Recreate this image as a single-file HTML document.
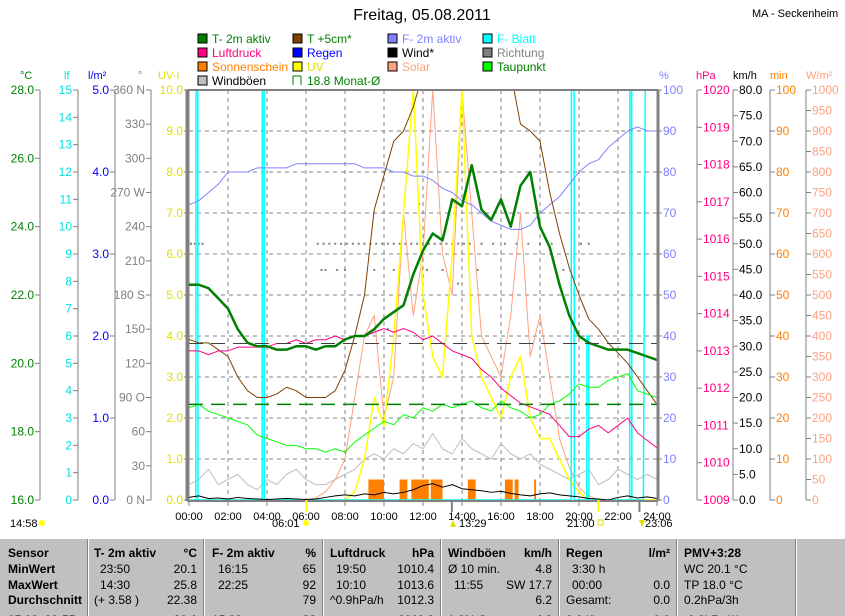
<!DOCTYPE html>
<html><head><meta charset="utf-8">
<style>
html,body{margin:0;padding:0;background:#fff;}
body{width:845px;height:615px;overflow:hidden;position:relative;font-family:"Liberation Sans",sans-serif;}
svg text{font-family:"Liberation Sans",sans-serif;}
#tbl{position:absolute;left:0;top:538px;width:845px;height:77px;background:#c0c0c0;border-top:1px solid #fff;overflow:hidden;}
.c{position:absolute;font-size:12px;white-space:nowrap;}
.b{font-weight:bold;}
.sep{position:absolute;top:0;width:1px;height:77px;background:#808080;border-right:1px solid #fff;}
</style></head>
<body>
<svg id="chart" width="845" height="538" style="position:absolute;left:0;top:0"></svg>
<div id="tbl"></div>
<script>
const hours=[0,0.5,1,1.5,2,2.5,3,3.5,4,4.5,5,5.5,6,6.5,7,7.5,8,8.5,9,9.5,10,10.5,11,11.5,12,12.5,13,13.5,14,14.5,15,15.5,16,16.5,17,17.5,18,18.5,19,19.5,20,20.5,21,21.5,22,22.5,23,23.5,24];
const t2m=[22.3,22.3,22.2,21.9,21.6,21.0,20.6,20.5,20.5,20.4,20.4,20.5,20.5,20.4,20.5,20.5,20.7,20.8,20.8,21.0,21.3,21.5,21.7,22.6,23.3,23.8,23.6,24.8,24.6,25.8,24.5,24.2,24.8,24.0,25.2,25.6,24.0,23.4,22.3,21.4,20.8,20.6,20.5,20.4,20.4,20.4,20.3,20.2,20.1];
const f2m=[72,73,75,77,80,80,80,81,81,81,81,82,82,82,82,82,82,82,81,81,81,80,80,79,79,78,76,75,73,72,70,68,67,66,66,67,70,72,74,77,80,82,83,86,88,90,91,90,90];
const luftdruck=[1013.0,1013.0,1012.9,1013.0,1013.0,1013.1,1013.1,1013.1,1013.1,1013.2,1013.2,1013.3,1013.2,1013.3,1013.3,1013.4,1013.3,1013.4,1013.4,1013.5,1013.6,1013.5,1013.6,1013.5,1013.3,1013.4,1013.2,1013.0,1012.9,1012.8,1012.5,1012.3,1012.0,1011.8,1011.6,1011.5,1011.4,1011.3,1011.0,1010.7,1010.7,1010.9,1011.0,1010.8,1011.0,1011.2,1010.8,1010.6,1010.4];
const t5cm=[20.7,20.6,20.6,20.4,20.2,19.6,19.2,19.0,19.0,19.1,19.3,19.2,19.0,19.0,19.0,19.2,19.8,20.8,22.0,24.5,25.5,26.5,26.8,27.5,28.5,29,29,29,29,29,29,29,29,28.5,27.0,26.8,26.5,25.0,23.8,22.8,22.0,21.3,21.0,20.6,20.3,20.0,19.6,19.2,18.8];
const taupunkt=[18.7,18.8,18.6,18.5,18.4,18.3,18.2,17.9,17.8,17.7,17.6,17.6,17.5,17.5,17.4,17.5,17.4,17.7,17.9,18.1,18.3,18.2,18.5,18.4,18.7,18.6,18.8,18.7,18.8,18.9,18.7,18.6,18.9,18.7,18.6,18.4,18.5,18.8,18.9,19.1,19.4,19.3,19.3,19.5,19.6,19.7,19.2,19.1,19.0];
const windboeen=[3,4,6,3,4,5,3,2,4,3,5,6,4,3,3,4,5,6,8,9,8,10,9,11,10,13,10,9,12,10,9,8,11,9,8,9,7,6,5,4,5,6,3,4,6,5,4,5,4];
const wind=[0.5,0.8,0.3,0.4,0.2,0.5,0.3,0.2,0.1,0.2,0.3,0.2,0.1,0.2,0.5,0.8,1.0,0.8,1.2,1.0,1.5,1.2,1.5,2.0,2.8,3.2,2.5,3.0,2.2,2.0,1.8,1.5,1.7,1.3,1.0,0.8,1.2,1.4,1.0,0.8,0.6,0.3,0.2,0.0,0.5,0.8,0.4,0.6,0.3];
const uv=[0,0,0,0,0,0,0,0,0,0,0,0,0,0,0,0,0,0.2,1,2.5,1.8,4,7,10,5,3.5,3,6,10,4,3,2.5,2,3,3.5,2,1.5,1.5,1,0.5,0.2,0,0,0,0,0,0,0,0];
const solar=[0,0,0,0,0,0,0,0,0,0,0,0,0,5,20,50,100,250,400,450,200,300,700,450,600,1000,600,500,1000,700,400,350,300,450,700,350,450,300,150,80,30,10,0,0,0,0,0,0,0];
const sunStart=[9.2,10.8,11.4,12.4,14.3,16.2,16.7,17.7];
const sunEnd=[10.0,11.2,12.3,13.0,14.7,16.6,16.9,17.8];
const sunMin=[5,5,5,5,5,5,5,5];
const fbTimes=[0,0.35,0.36,0.45,0.46,3.75,3.76,3.85,3.86,19.6,19.61,19.75,19.76,20.4,20.41,20.5,20.51,22.6,22.61,22.7,22.71,23.3,23.4,24];
const fbVals=[0,0,15,15,0,0,15,15,0,0,15,15,0,0,6,6,0,0,15,15,0,0,15,15];
const dirT=[0.1,0.3,0.5,0.7,6.6,6.9,7.2,7.5,7.8,8.1,8.4,8.7,9.0,9.3,9.6,9.9,10.2,10.5,10.8,11.1,11.4,11.7,12.0,12.3,12.6,12.9,13.2,13.5,13.8,14.1,14.4,15.0,15.6,16.2,16.8,17.4,18.0,18.6,7.0,8.0,9.5,10.5,12.2,13.0,14.8,20.1,20.5,6.8,7.6,11.8,19.2,10.2,13.8];
const dirV=[225,225,225,225,225,225,225,225,225,225,225,225,225,225,225,225,225,225,225,225,225,225,225,225,225,225,225,225,225,225,225,225,225,225,225,225,225,225,202,202,202,202,202,202,202,225,225,202,202,260,202,150,190];
const avgLuft=1013.2, monthAvgT=18.8;

const NS='http://www.w3.org/2000/svg', svg=document.getElementById('chart');
const X0=189,X1=657,YT=90,YB=500,H=YB-YT;
const xT=h=>X0+h/24*(X1-X0);
const yC=v=>YB-(v-16)/12*H, yP=v=>YB-v/100*H, yH=v=>YB-(v-1009)/11*H, yK=v=>YB-v/80*H;
const yM=v=>YB-v/100*H, yW=v=>YB-v/1000*H, yUV=v=>YB-v/10*H, yD=v=>YB-v/360*H, yLf=v=>YB-v/15*H;
function mk(tag,attrs,parent){const e=document.createElementNS(NS,tag);for(const k in attrs)e.setAttribute(k,attrs[k]);(parent||svg).appendChild(e);return e;}
function txt(x,y,s,fill,anchor,size,parent){const e=mk('text',{x:x,y:y,fill:fill,'font-size':size||12,'text-anchor':anchor||'start'},parent);e.textContent=s;return e;}

let e=txt(422,20,'Freitag, 05.08.2011','#000','middle',16);

e=txt(752,17,'MA - Seckenheim','#000','start',11);


const leg=[['T- 2m aktiv','#008000','#008000'],['T +5cm*','#804000','#008000'],['F- 2m aktiv','#8080ff','#8080ff'],['F- Blatt','#00ffff','#00ffff'],
['Luftdruck','#ff0080','#ff0080'],['Regen','#0000ff','#0000ff'],['Wind*','#000000','#000'],['Richtung','#808080','#808080'],
['Sonnenschein','#ff8000','#ff8000'],['UV','#ffff00','#e0e000'],['Solar','#ffa080','#ffa080'],['Taupunkt','#00ff00','#008000'],
['Windböen','#c0c0c0','#000'],['18.8 Monat-Ø','none','#008000']];
leg.forEach((l,i)=>{const c=i%4,r=Math.floor(i/4);const g=mk('g',{});

const x=198+c*95,y=34+r*14;
if(l[1]==='none'){mk('path',{d:`M${x+8} ${y} H${x} V${y+9} M${x+8} ${y} V${y+9}`,stroke:'#008000',fill:'none'},g);}
else mk('rect',{x:x,y:y,width:9,height:9,fill:l[1],stroke:'#000'},g);
txt(x+14,y+9,l[0],l[2],'start',12,g);});

[['°C',20,'#008000'],['lf',64,'#00e0e0'],['l/m²',88,'#0000ff'],['°',138,'#808080'],['UV-I',158,'#e0e000'],['%',659,'#8080ff'],['hPa',696,'#ff0080'],['km/h',733,'#000'],['min',770,'#ff8000'],['W/m²',806,'#ffa080']].forEach(u=>{
const t=txt(u[1],79,u[0],u[2],'start',11);});

function vaxis(lineX,ticks,yf,fmt,col,side,name){const g=mk('g',{});
mk('line',{x1:lineX,y1:YT,x2:lineX,y2:YB,stroke:'#808080'},g);
ticks.forEach(v=>{const y=yf(v);if(side<0){mk('line',{x1:lineX-5,y1:y,x2:lineX,y2:y,stroke:'#808080'},g);txt(lineX-6,y+4,fmt(v),col,'end',12,g);}
else{mk('line',{x1:lineX,y1:y,x2:lineX+5,y2:y,stroke:'#808080'},g);txt(lineX+6,y+4,fmt(v),col,'start',12,g);}});}
const cT=[16,18,20,22,24,26,28], lfT=[0,1,2,3,4,5,6,7,8,9,10,11,12,13,14,15], rT=[0,1,2,3,4,5];
const dT=[0,30,60,90,120,150,180,210,240,270,300,330,360], dL={0:'0 N',90:'90 O',180:'180 S',270:'270 W',360:'360 N'};
const uvT=[0,1,2,3,4,5,6,7,8,9,10];
vaxis(40,cT,yC,v=>v.toFixed(1),'#008000',-1,'y-axis-temperature');
vaxis(78,lfT,yLf,v=>''+v,'#00e0e0',-1,'y-axis-leaf-wetness');
vaxis(115,rT,v=>YB-v/5*H,v=>v.toFixed(1),'#0000ff',-1,'y-axis-rain');
vaxis(151,dT,yD,v=>dL[v]||''+v,'#808080',-1,'y-axis-direction');
vaxis(X0,uvT,yUV,v=>v.toFixed(1),'#e0e000',-1,'y-axis-uv');
const pT=[0,10,20,30,40,50,60,70,80,90,100], hT=[1009,1010,1011,1012,1013,1014,1015,1016,1017,1018,1019,1020];
const kT=[0,5,10,15,20,25,30,35,40,45,50,55,60,65,70,75,80], mT=[0,10,20,30,40,50,60,70,80,90,100];
const wT=[0,50,100,150,200,250,300,350,400,450,500,550,600,650,700,750,800,850,900,950,1000];
vaxis(X1,pT,yP,v=>''+v,'#8080ff',1,'y-axis-humidity');
vaxis(697,hT,yH,v=>''+v,'#ff0080',1,'y-axis-pressure');
vaxis(733,kT,yK,v=>v.toFixed(1),'#000',1,'y-axis-wind');
vaxis(770,mT,yM,v=>''+v,'#ff8000',1,'y-axis-sunshine');
vaxis(806,wT,yW,v=>''+v,'#ffa080',1,'y-axis-solar');

const grid=mk('g',{});
for(let v=1;v<10;v++)mk('line',{x1:X0,x2:X1,y1:yUV(v),y2:yUV(v),stroke:'#808080','stroke-dasharray':'4 4'},grid);
for(let h=2;h<24;h+=2)mk('line',{x1:xT(h),x2:xT(h),y1:YT,y2:YB,stroke:'#808080','stroke-dasharray':'4 4'},grid);

const clip=mk('clipPath',{id:'pc'});mk('rect',{x:X0,y:YT,width:X1-X0,height:H},clip);
const plot=mk('g',{'clip-path':'url(#pc)'});
function series(vals,yf,col,w,name){const p=mk('polyline',{points:vals.map((v,i)=>xT(hours[i])+','+yf(v)).join(' '),fill:'none',stroke:col,'stroke-width':w||1,'stroke-linejoin':'round'},plot);
return p;}

sunStart.forEach((s,i)=>{const r=mk('rect',{x:xT(s),y:yM(sunMin[i]),width:xT(sunEnd[i])-xT(s),height:YB-yM(sunMin[i]),fill:'#ff8000'},plot);
});
dirT.forEach((t,i)=>{const r=mk('rect',{x:xT(t)-1,y:yD(dirV[i])-1,width:2,height:2,fill:'#808080'},plot);
});
series(windboeen,yK,'#c0c0c0',1,'windboeen-line');
series(solar,yW,'#ffa080',1,'solar-line');
series(uv,yUV,'#ffff00',1.5,'uv-line');
let fb=mk('polyline',{points:fbTimes.map((t,i)=>xT(t)+','+yLf(fbVals[i])).join(' '),fill:'none',stroke:'#00ffff','stroke-width':1.5},plot);

series(f2m,yP,'#8080ff',1,'f-2m-line');
series(t5cm,yC,'#804000',1,'t-5cm-line');
series(taupunkt,yC,'#00ff00',1,'taupunkt-line');
series(luftdruck,yH,'#ff0080',1,'luftdruck-line');
series(wind,yK,'#000',1,'wind-line');
series(t2m,yC,'#008000',2.5,'t-2m-line');
let dl=mk('line',{x1:X0,x2:X1,y1:yH(avgLuft),y2:yH(avgLuft),stroke:'#404040','stroke-dasharray':'14 8'},plot);

dl=mk('line',{x1:X0,x2:X1,y1:yC(monthAvgT),y2:yC(monthAvgT),stroke:'#008000','stroke-dasharray':'14 8','stroke-width':1.5},plot);


const fr=mk('g',{});
mk('line',{x1:X0-2,y1:YT,x2:X1+1,y2:YT,stroke:'#808080','stroke-width':2},fr);
mk('line',{x1:X0-2,y1:YT,x2:X0-2,y2:YB+1,stroke:'#808080','stroke-width':3},fr);
mk('line',{x1:X1+1,y1:YT,x2:X1+1,y2:YB+1,stroke:'#808080','stroke-width':3},fr);
mk('line',{x1:X0-2,y1:YB+1,x2:X1+1,y2:YB+1,stroke:'#808080','stroke-width':2},fr);
const xa=mk('g',{});
for(let h=0;h<=24;h+=2){mk('line',{x1:xT(h),x2:xT(h),y1:YB,y2:YB+6,stroke:'#808080'},xa);txt(xT(h),YB+20,(h<10?'0':'')+h+':00','#000','middle',11,xa);}
[[6.02,'#ffff00'],[21,'#ffff00'],[13.48,'#808080'],[23.1,'#808080']].forEach(m=>{mk('line',{x1:xT(m[0]),x2:xT(m[0]),y1:YB,y2:YB+12,stroke:m[1],'stroke-width':2},xa);});
[[10,527,'14:58'],[272,527,'06:01'],[459,527,'13:29'],[567,527,'21:00'],[645,527,'23:06']].forEach(a=>{const t=txt(a[0],a[1],a[2],'#000','start',11);});
mk('circle',{cx:42,cy:523,r:3,fill:'#ffff00'});mk('circle',{cx:306,cy:523,r:3,fill:'#ffff00'});
mk('rect',{x:598,y:520,width:5,height:5,fill:'none',stroke:'#e0e000'});
mk('path',{d:'M453 520 l-3 7 h6 z',fill:'#e0e000'});mk('path',{d:'M639 520 l3 7 l3 -7 z',fill:'#e0e000'});

const tb=document.getElementById('tbl');
function cell(x,y,s,bold,right){const d=document.createElement('div');d.className='c'+(bold?' b':'');d.style.top=(y-538-8)+'px';
if(right){d.style.right=(845-x)+'px';}else d.style.left=x+'px';d.textContent=s;


tb.appendChild(d);}
[87,203,322,440,558,676,795].forEach(x=>{const s=document.createElement('div');s.className='sep';s.style.left=x+'px';


tb.appendChild(s);});
const rows=[553,569,585,600,620];
['Sensor','MinWert','MaxWert','Durchschnitt','05.08. 23:55'].forEach((s,i)=>cell(8,rows[i],s,true));
const cols=[[94,197,'T- 2m aktiv','°C',['23:50','14:30','(+ 3.58 )',''],['20.1','25.8','22.38','20.1']],
[212,316,'F- 2m aktiv','%',['16:15','22:25','','15:30 ...'],['65','92','79','88']],
[330,434,'Luftdruck','hPa',['19:50','10:10','^0.9hPa/h','...'],['1010.4','1013.6','1012.3','1011.8']],
[448,552,'Windböen','km/h',['Ø 10 min.','11:55','','1.8% S'],['4.8','SW 17.7','6.2','4.8']],
[566,670,'Regen','l/m²',['3:30 h','00:00','Gesamt:','0.0 l/h'],['','0.0','0.0','0.0']]];
cols.forEach(c=>{cell(c[0],rows[0],c[2],true);cell(c[1],rows[0],c[3],true,true);
c[4].forEach((s,i)=>cell(c[0]+(i<2&&s.indexOf(':')>0?6:0),rows[i+1],s,false));c[5].forEach((s,i)=>cell(c[1],rows[i+1],s,i==3,true));});
cell(684,rows[0],'PMV+3:28',true);cell(684,rows[1],'WC 20.1 °C');cell(684,rows[2],'TP 18.0 °C');cell(684,rows[3],'0.2hPa/3h');cell(684,rows[4],'-0.2hPa/1h');
</script>
</body></html>
